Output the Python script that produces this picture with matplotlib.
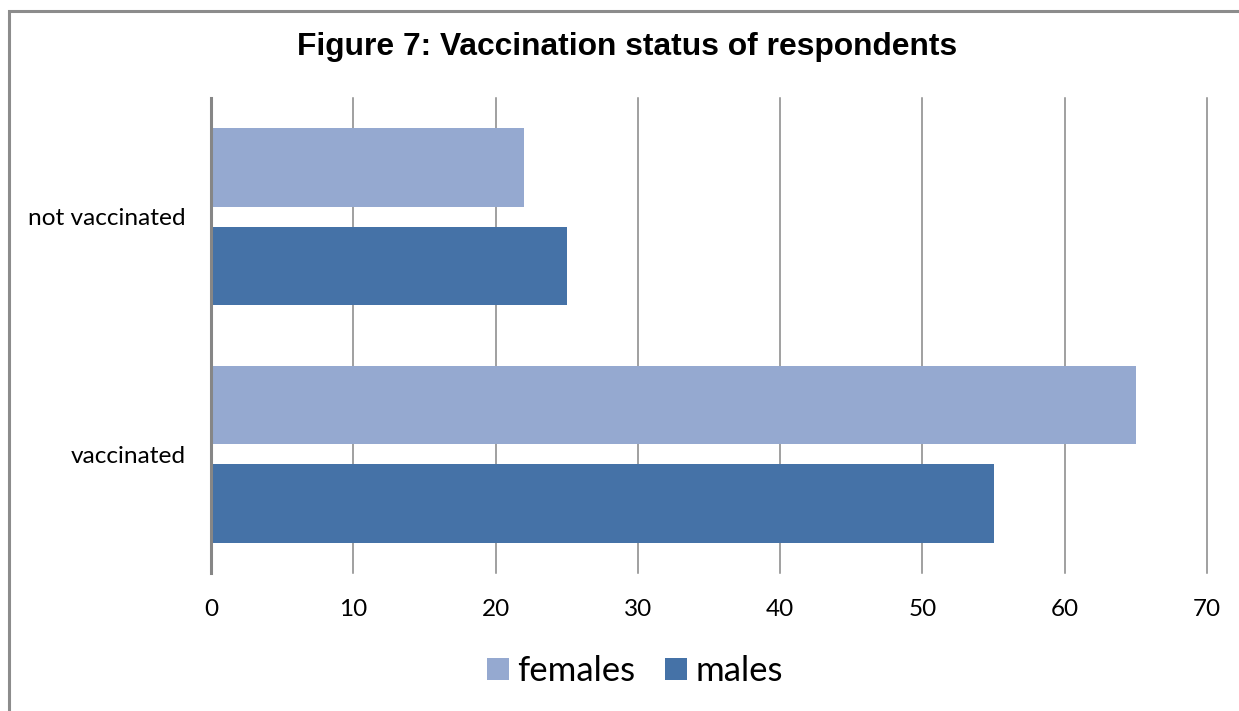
import matplotlib
matplotlib.use("Agg")
import matplotlib.pyplot as plt
from matplotlib.patches import Rectangle
import numpy as np

categories = ["not vaccinated", "vaccinated"]
females = [22, 65]
males = [25, 55]
series_names = ["females", "males"]
x_ticks = [0, 10, 20, 30, 40, 50, 60, 70]

c_fem = "#95A9D0"
c_mal = "#4572A7"
grid_c = "#868686"

W, H = 1239, 711
fig = plt.figure(figsize=(W / 100, H / 100), dpi=100)
fig.patch.set_facecolor("white")

# outer chart frame (runs off the right and bottom edges)
fig.add_artist(Rectangle((9 / W, -0.05), 1.2, 1 - 9 / H + 0.05 - 1.5 / H,
                         transform=fig.transFigure, fill=False,
                         edgecolor="#8c8c8c", linewidth=2.2))

ax = fig.add_axes([211 / W, 1 - 573 / H, (1207 - 211) / W, (573 - 98) / H])

y = np.arange(len(categories))
off = 0.207
h = 0.33
ax.barh(y - off, females, height=h, color=c_fem, label=series_names[0], zorder=3)
ax.barh(y + off, males, height=h, color=c_mal, label=series_names[1], zorder=3)

ax.set_ylim(len(categories) - 0.5, -0.5)
ax.set_xlim(0, 70)
ax.set_xticks(x_ticks)
ax.set_xticklabels([str(t) for t in x_ticks], fontsize=17.5, family="Lato")
ax.set_yticks(y)
ax.set_yticklabels(categories, fontsize=17.6, family="Lato")
ax.tick_params(axis="x", length=0, pad=19, colors="#000000")
ax.tick_params(axis="y", length=0, pad=18)
ax.grid(axis="x", color=grid_c, linewidth=1.1, zorder=0)
for gl in ax.get_xgridlines():
    gl.set_clip_on(False)
for s in ["top", "right", "bottom"]:
    ax.spines[s].set_visible(False)
ax.spines["left"].set_color(grid_c)
ax.spines["left"].set_linewidth(2.2)
ax.spines["left"].set_zorder(4)

fig.text(627 / W, 1 - 47 / H, "Figure 7: Vaccination status of respondents",
         ha="center", va="center", fontsize=22.9, fontweight="bold",
         family="Liberation Sans")

fig.legend(loc="center", bbox_to_anchor=(635 / W, 1 - 671 / H), ncol=2,
           frameon=False, prop={"family": "Lato", "size": 25},
           handlelength=0.62, handleheight=0.62, handletextpad=0.25,
           columnspacing=0.85)

fig.savefig("out.png", dpi=100)
